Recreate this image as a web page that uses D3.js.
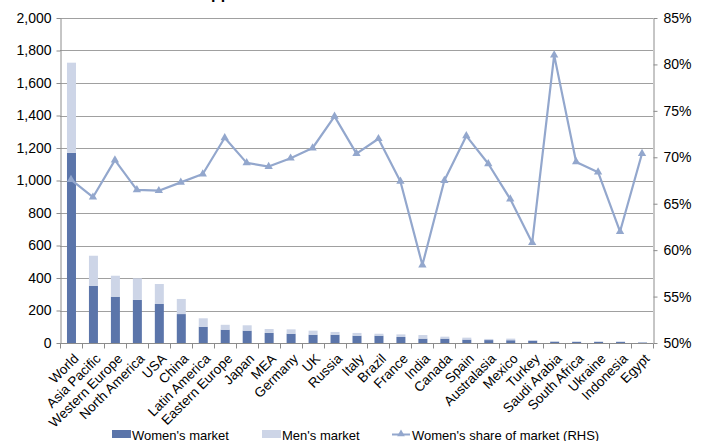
<!DOCTYPE html>
<html>
<head>
<meta charset="utf-8">
<script src="https://cdn.jsdelivr.net/npm/d3@7"></script>
<style>
  html, body { margin: 0; padding: 0; background: #fff; }
  svg { display: block; font-family: "Liberation Sans", Arial, sans-serif; }
</style>
</head>
<body>
<svg id="chart" width="707" height="441"></svg>
<script>
// Market size by region, split women / men, with women's share on the right axis
const categories = ["World", "Asia Pacific", "Western Europe", "North America", "USA", "China",
  "Latin America", "Eastern Europe", "Japan", "MEA", "Germany", "UK", "Russia", "Italy", "Brazil",
  "France", "India", "Canada", "Spain", "Australasia", "Mexico", "Turkey", "Saudi Arabia",
  "South Africa", "Ukraine", "Indonesia", "Egypt"];
const womenMarket = [1170, 351, 285, 265, 240, 178, 100, 82, 76, 62, 57, 51, 51, 45, 45,
  37, 27, 27, 21, 18, 17, 14, 8, 7, 7, 6, 3];
const menMarket = [555, 186, 129, 133, 123, 93, 52, 30, 33, 24, 27, 25, 17, 17, 12,
  16, 22, 12, 12, 7, 10, 3, 2, 3, 3, 4, 1];
const womenShare = [0.676, 0.657, 0.697, 0.665, 0.664, 0.673, 0.682, 0.721, 0.694, 0.690,
  0.699, 0.710, 0.744, 0.704, 0.720, 0.674, 0.584, 0.675, 0.723, 0.693, 0.655, 0.608,
  0.810, 0.695, 0.684, 0.620, 0.704];
const leftTicks = [0, 200, 400, 600, 800, 1000, 1200, 1400, 1600, 1800, 2000];
const rightTicks = [0.50, 0.55, 0.60, 0.65, 0.70, 0.75, 0.80, 0.85];
const legendLabels = ["Women's market", "Men's market", "Women's share of market (RHS)"];
const titleText = "Women's apparel market";

const colWomen = "#5b75aa";
const colMen = "#cdd5e7";
const colLine = "#93a7cd";
const colGrid = "#a0a0a0";
const colAxis = "#8c8c8c";

const svg = d3.select("#chart");
const plotLeft = 60, plotRight = 653, plotTop = 18, plotBottom = 343;

const x = d3.scaleBand().domain(categories).range([plotLeft, plotRight]);
const yL = d3.scaleLinear().domain([0, 2000]).range([plotBottom, plotTop]);
const yR = d3.scaleLinear().domain([0.50, 0.85]).range([plotBottom, plotTop]);

// Title sits above the frame
const title = svg.append("text")
  .attr("y", -1)
  .attr("font-size", 16)
  .attr("font-weight", "bold")
  .attr("fill", "#000")
  .text(titleText);
const pIndex = titleText.indexOf("p");
const pStart = title.node().getStartPositionOfChar(pIndex).x;
title.attr("x", 211 - pStart);

// Horizontal gridlines from the left scale
svg.append("g")
  .selectAll("line")
  .data(leftTicks.filter(d => d > 0))
  .join("line")
  .attr("x1", plotLeft).attr("x2", plotRight)
  .attr("y1", d => Math.round(yL(d)) + 0.5)
  .attr("y2", d => Math.round(yL(d)) + 0.5)
  .attr("stroke", colGrid)
  .attr("stroke-width", 1);

// Stacked bars
const barW = 9;
const bars = svg.append("g");
bars.selectAll("rect.women")
  .data(categories)
  .join("rect")
  .attr("class", "women")
  .attr("x", d => x(d) + x.bandwidth() / 2 - barW / 2 + 0.5)
  .attr("width", barW)
  .attr("y", (d, i) => yL(womenMarket[i]))
  .attr("height", (d, i) => yL(0) - yL(womenMarket[i]))
  .attr("fill", colWomen);
bars.selectAll("rect.men")
  .data(categories)
  .join("rect")
  .attr("class", "men")
  .attr("x", d => x(d) + x.bandwidth() / 2 - barW / 2 + 0.5)
  .attr("width", barW)
  .attr("y", (d, i) => yL(womenMarket[i] + menMarket[i]))
  .attr("height", (d, i) => yL(womenMarket[i]) - yL(womenMarket[i] + menMarket[i]))
  .attr("fill", colMen);

// Left axis
const axL = svg.append("g")
  .attr("transform", `translate(${plotLeft + 0.5},0)`)
  .call(d3.axisLeft(yL).tickValues(leftTicks).tickFormat(d3.format(",")).tickSize(4).tickPadding(5).tickSizeOuter(0));
axL.select(".domain").attr("stroke", colAxis);
axL.selectAll(".tick line").attr("stroke", colAxis);
axL.selectAll(".tick text").attr("font-size", 14).attr("fill", "#000").attr("font-family", "Liberation Sans, Arial, sans-serif");

// Right axis
const axR = svg.append("g")
  .attr("transform", `translate(${plotRight + 0.5},0)`)
  .call(d3.axisRight(yR).tickValues(rightTicks).tickFormat(d3.format(".0%")).tickSize(4).tickPadding(6).tickSizeOuter(0));
axR.select(".domain").attr("stroke", colAxis);
axR.selectAll(".tick line").attr("stroke", colAxis);
axR.selectAll(".tick text").attr("font-size", 14).attr("fill", "#000").attr("font-family", "Liberation Sans, Arial, sans-serif");

// Category axis with ticks between bands
const axB = svg.append("g")
  .attr("transform", `translate(0,${plotBottom + 0.5})`);
axB.append("line")
  .attr("x1", plotLeft).attr("x2", plotRight)
  .attr("stroke", colAxis);
axB.selectAll("line.tk")
  .data(categories.concat([null]))
  .join("line")
  .attr("class", "tk")
  .attr("x1", (d, i) => Math.round(plotLeft + i * x.step()) + 0.5)
  .attr("x2", (d, i) => Math.round(plotLeft + i * x.step()) + 0.5)
  .attr("y1", 0).attr("y2", 5)
  .attr("stroke", colAxis);
axB.selectAll("text")
  .data(categories)
  .join("text")
  .attr("transform", d => `translate(${x(d) + x.bandwidth() / 2 + 8.5},16) rotate(-45)`)
  .attr("text-anchor", "end")
  .attr("font-size", 13.5)
  .attr("fill", "#000")
  .text(d => d);

// Women's share line (right scale)
const lineGen = d3.line()
  .x((d, i) => x(categories[i]) + x.bandwidth() / 2)
  .y(d => yR(d));
svg.append("path")
  .datum(womenShare)
  .attr("d", lineGen)
  .attr("fill", "none")
  .attr("stroke", colLine)
  .attr("stroke-width", 2.2)
  .attr("stroke-linejoin", "round");
const tri = d3.symbol().type(d3.symbolTriangle).size(30);
svg.append("g")
  .selectAll("path")
  .data(womenShare)
  .join("path")
  .attr("transform", (d, i) => `translate(${x(categories[i]) + x.bandwidth() / 2},${yR(d)})`)
  .attr("d", tri)
  .attr("fill", colLine);

// Legend
const legend = svg.append("g").attr("font-size", 13);
const lg0 = legend.append("g");
lg0.append("rect").attr("x", 112).attr("y", 430).attr("width", 19).attr("height", 8).attr("fill", colWomen);
lg0.append("text").attr("x", 132).attr("y", 440).text(legendLabels[0]);
const lg1 = legend.append("g");
lg1.append("rect").attr("x", 262).attr("y", 430).attr("width", 19).attr("height", 8).attr("fill", colMen);
lg1.append("text").attr("x", 282).attr("y", 440).text(legendLabels[1]);
const lg2 = legend.append("g");
lg2.append("line").attr("x1", 392).attr("x2", 410).attr("y1", 434.5).attr("y2", 434.5)
  .attr("stroke", colLine).attr("stroke-width", 2);
lg2.append("path").attr("transform", "translate(401,434)").attr("d", d3.symbol().type(d3.symbolTriangle).size(26)).attr("fill", colLine);
lg2.append("text").attr("x", 412).attr("y", 440).text(legendLabels[2]);
</script>
</body>
</html>
